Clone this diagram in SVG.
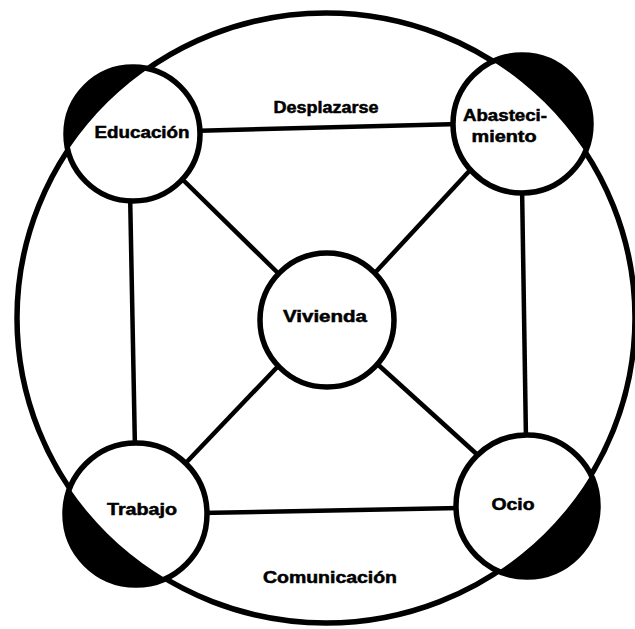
<svg xmlns="http://www.w3.org/2000/svg" width="635" height="629" viewBox="0 0 635 629">
<style>
.ring{fill:none;stroke:#000;stroke-width:5.5}
.node{fill:#fff;stroke:none}
.edge{stroke:#000;stroke-width:4.5;stroke-linecap:butt}
.dark{fill:#000;clip-path:url(#outside)}
.lbl{font-family:"Liberation Sans",Arial,sans-serif;font-weight:bold;font-size:16px;fill:#000;stroke:#000;stroke-width:0.5;text-anchor:middle}
</style>
<defs>
<clipPath id="outside">
<path clip-rule="evenodd" d="M0,0H635V629H0Z M17,318 a309,305 0 1,0 618,0 a309,305 0 1,0 -618,0Z"/>
</clipPath>
</defs>
<rect width="635" height="629" fill="#fff"/>
<ellipse id="outer" cx="326" cy="318" rx="309" ry="305" class="ring"/>
<g id="connectors">
<line class="edge" x1="190" y1="131" x2="460" y2="124"/>
<line class="edge" x1="130" y1="190" x2="135" y2="450"/>
<line class="edge" x1="522" y1="185" x2="526" y2="440"/>
<line class="edge" x1="200" y1="513" x2="460" y2="508"/>
<line class="edge" x1="177" y1="174" x2="281" y2="276"/>
<line class="edge" x1="372" y1="276" x2="473" y2="167"/>
<line class="edge" x1="283" y1="361" x2="181" y2="468"/>
<line class="edge" x1="374" y1="361" x2="481" y2="458"/>
<text class="lbl" x="326" y="113" textLength="105" lengthAdjust="spacingAndGlyphs">Desplazarse</text>
<text class="lbl" x="330" y="583" textLength="134" lengthAdjust="spacingAndGlyphs">Comunicación</text>
</g>
<g id="educacion">
<circle class="node" cx="133" cy="134" r="67"/>
<circle class="dark" cx="133" cy="134" r="67"/>
<circle class="ring" cx="133" cy="134" r="67"/>
<text class="lbl" x="142" y="138" textLength="95" lengthAdjust="spacingAndGlyphs">Educación</text>
</g>
<g id="abastecimiento">
<circle class="node" cx="522" cy="124" r="69"/>
<circle class="dark" cx="522" cy="124" r="69"/>
<circle class="ring" cx="522" cy="124" r="69"/>
<text class="lbl" x="505" y="121" textLength="84" lengthAdjust="spacingAndGlyphs">Abasteci-</text>
<text class="lbl" x="504" y="142" textLength="65" lengthAdjust="spacingAndGlyphs">miento</text>
</g>
<g id="vivienda">
<circle class="node" cx="327" cy="320" r="67"/>
<circle class="ring" cx="327" cy="320" r="67"/>
<text class="lbl" x="325" y="322" textLength="84" lengthAdjust="spacingAndGlyphs">Vivienda</text>
</g>
<g id="trabajo">
<circle class="node" cx="136" cy="514" r="71"/>
<circle class="dark" cx="136" cy="514" r="71"/>
<circle class="ring" cx="136" cy="514" r="71"/>
<text class="lbl" x="142" y="515" textLength="70" lengthAdjust="spacingAndGlyphs">Trabajo</text>
</g>
<g id="ocio">
<circle class="node" cx="527" cy="506" r="71"/>
<circle class="dark" cx="527" cy="506" r="71"/>
<circle class="ring" cx="527" cy="506" r="71"/>
<text class="lbl" x="513" y="510" textLength="43" lengthAdjust="spacingAndGlyphs">Ocio</text>
</g>
</svg>
